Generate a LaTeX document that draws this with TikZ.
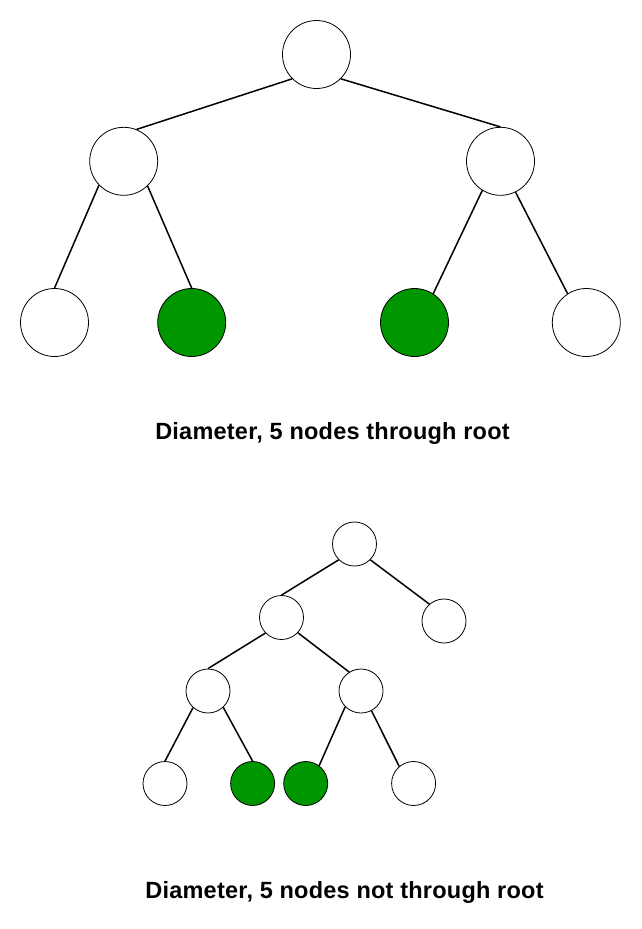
\documentclass[tikz,border=0pt]{standalone}
\usepackage{fontspec}
\setmainfont{Liberation Sans}[LetterSpace=1]
\definecolor{pathgreen}{RGB}{0,150,0}

\begin{document}
\begin{tikzpicture}[x=1pt, y=-1pt,
    big/.style={circle, draw=black, line width=0.8pt, fill=white, minimum size=68pt, inner sep=0pt},
    small/.style={circle, draw=black, line width=0.8pt, fill=white, minimum size=44pt, inner sep=0pt},
    onpath/.style={fill=pathgreen},
    link/.style={line width=1.5pt, color=black},
    caption/.style={font=\bfseries\fontsize{23.5}{28}\selectfont, anchor=base, inner sep=0pt}]
     \useasboundingbox (0,0) rectangle (642,929);

     \node[big] (troot) at (316.5,54.5) {};
     \node[big] (tl) at (123.7,161.3) {};
     \node[big] (tr) at (500.5,161.3) {};
     \node[big] (tll) at (54.5,322.5) {};
     \node[big, onpath] (tlr) at (191.7,322.5) {};
     \node[big, onpath] (trl) at (414.5,322.5) {};
     \node[big] (trr) at (586.3,322.5) {};
     \draw[link] (troot.225) -- (tl.68);
     \draw[link] (troot.315) -- (tr.north);
     \draw[link] (tl.224) -- (tll.north);
     \draw[link] (tl.314) -- (tlr.north);
     \draw[link] (tr.238) -- (trl.57);
     \draw[link] (tr.296) -- (trr.123);
     \node[caption] (tcap) at (332.5,439) {Diameter, 5 nodes through root};

     \node[small] (broot) at (354.5,544) {};
     \node[small] (bl) at (281.5,617.5) {};
     \node[small] (br) at (444,621) {};
     \node[small] (bll) at (208,691) {};
     \node[small] (blr) at (361,691) {};
     \node[small] (b1) at (165,783.5) {};
     \node[small, onpath] (b2) at (252.6,783.5) {};
     \node[small, onpath] (b3) at (305.7,783.5) {};
     \node[small] (b4) at (413.6,783.5) {};
     \draw[link] (broot.225) -- (bl.north);
     \draw[link] (broot.315) -- (br.131);
     \draw[link] (bl.224) -- (bll.north);
     \draw[link] (bl.317) -- (blr.122);
     \draw[link] (bll.228) -- (b1.north);
     \draw[link] (bll.313) -- (b2.north);
     \draw[link] (blr.225) -- (b3.53);
     \draw[link] (blr.298) -- (b4.130);
     \node[caption] (bcap) at (344.5,898) {Diameter, 5 nodes not through root};
   \end{tikzpicture}
\end{document}
